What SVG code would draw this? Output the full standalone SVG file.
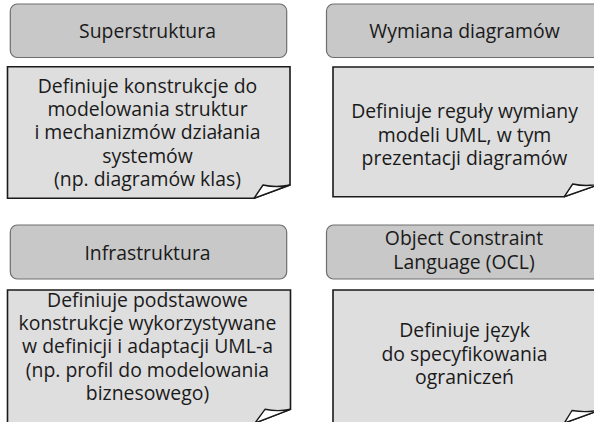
<svg xmlns="http://www.w3.org/2000/svg" width="594" height="422" viewBox="0 0 594 422">
  <style>
    .hdr { fill: #c8c8c8; stroke: #6e6e6e; stroke-width: 1.2; }
    .note { fill: #dedede; stroke: #1a1a1a; stroke-width: 1.6; }
    .curl { fill: #ffffff; stroke: #1a1a1a; stroke-width: 1.4; stroke-linejoin: round; }
    text { font-family: "Open Sans", "Noto Sans", "DejaVu Sans", sans-serif; font-size: 19.4px; fill: #1a1a1a; text-anchor: middle; }
  </style>

  <!-- Top-left: Superstruktura -->
  <g id="superstruktura">
    <rect class="hdr" x="10.3" y="4" width="276.4" height="53.5" rx="7"/>
    <text x="147.5" y="38">Superstruktura</text>
  </g>
  <g id="superstruktura-note">
    <path class="note" d="M7.5,66.7 H290 V185 L254,198.3 H7.5 Z"/>
    <path class="curl" d="M254,198.3 L263,185 Q276,188 290,185 Z"/>
    <text x="147.5" y="92.7">Definiuje konstrukcje do</text>
    <text x="147.5" y="116">modelowania struktur</text>
    <text x="147.5" y="139.3">i mechanizmów działania</text>
    <text x="147.5" y="162.6">systemów</text>
    <text x="147.5" y="185.8">(np. diagramów klas)</text>
  </g>

  <!-- Top-right: Wymiana diagramów -->
  <g id="wymiana">
    <rect class="hdr" x="326.5" y="4" width="276" height="53.5" rx="7"/>
    <text x="464.5" y="37.5">Wymiana diagramów</text>
  </g>
  <g id="wymiana-note">
    <path class="note" d="M333,67 H600 V184 L564.3,196.7 H333 Z"/>
    <path class="curl" d="M564.3,196.7 L572.7,184 Q586,187 600,184 Z"/>
    <text x="464.5" y="118">Definiuje reguły wymiany</text>
    <text x="464.5" y="141.5">modeli UML, w tym</text>
    <text x="464.5" y="165">prezentacji diagramów</text>
  </g>

  <!-- Bottom-left: Infrastruktura -->
  <g id="infrastruktura">
    <rect class="hdr" x="10.3" y="225" width="276.4" height="54" rx="7"/>
    <text x="147.5" y="260">Infrastruktura</text>
  </g>
  <g id="infrastruktura-note">
    <path class="note" d="M7.5,290 H290.5 V409.3 L255,423 H7.5 Z"/>
    <path class="curl" d="M255,423 L265,409.3 Q278,412 290.5,409.3 Z"/>
    <text x="147.5" y="306.5">Definiuje podstawowe</text>
    <text x="147.5" y="330">konstrukcje wykorzystywane</text>
    <text x="147.5" y="353.3">w definicji i adaptacji UML-a</text>
    <text x="147.5" y="376.7">(np. profil do modelowania</text>
    <text x="147.5" y="399.5">biznesowego)</text>
  </g>

  <!-- Bottom-right: Object Constraint Language -->
  <g id="ocl">
    <rect class="hdr" x="326.5" y="225" width="276" height="54" rx="7"/>
    <text x="464" y="245.3">Object Constraint</text>
    <text x="464" y="269.3">Language (OCL)</text>
  </g>
  <g id="ocl-note">
    <path class="note" d="M333,290 H600 V410 L564.3,423 H333 Z"/>
    <path class="curl" d="M564.3,423 L572,410.5 Q586,413 600,410 Z"/>
    <text x="464.5" y="337.3">Definiuje język</text>
    <text x="464.5" y="360.7">do specyfikowania</text>
    <text x="464.5" y="384">ograniczeń</text>
  </g>
</svg>
